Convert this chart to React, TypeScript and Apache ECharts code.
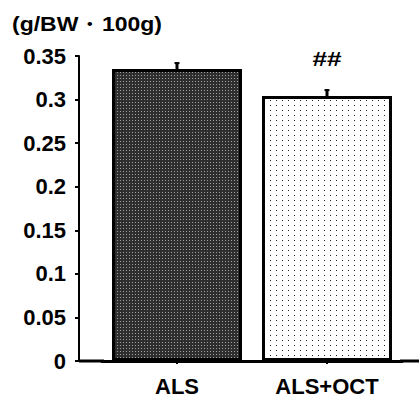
import React, { useEffect, useRef } from "react";
import * as echarts from "echarts";

const categories = ["ALS", "ALS+OCT"];
const values = [0.335, 0.304];
const errors = [0.008, 0.008];
const significance = ["", "##"];
const yTicks = { min: 0, max: 0.35, interval: 0.05 };
const unitLabel = "(g/BW・100g)";

const FONT = "'Liberation Sans', Arial, sans-serif";

export default function App() {
  const ref = useRef<HTMLDivElement>(null);
  useEffect(() => {
    if (!ref.current) return;
    const chart = echarts.init(ref.current, null, { renderer: "svg" });
    const option: any = {
      animation: false,
      backgroundColor: "#fff",
      grid: { left: 102, right: 17, top: 56, bottom: 36 },
      graphic: [
        {
          type: "text",
          x: 12,
          y: 14,
          scaleX: 1.15,
          style: { text: unitLabel, font: `bold 20px ${FONT}`, fill: "#000" },
        },
        {
          type: "line",
          shape: { x1: 79, y1: 361, x2: 104, y2: 361 },
          style: { stroke: "#000", lineWidth: 3 },
        },
        {
          type: "line",
          shape: { x1: 400, y1: 361, x2: 419, y2: 361 },
          style: { stroke: "#000", lineWidth: 3 },
        },
      ],
      xAxis: {
        type: "category",
        data: categories,
        axisLine: { show: true, lineStyle: { color: "#000", width: 3 } },
        axisTick: { show: true, alignWithLabel: true, length: 3, lineStyle: { color: "#000", width: 2 } },
        axisLabel: { color: "#000", fontFamily: FONT, fontWeight: "bold", fontSize: 22, margin: 14 },
        splitLine: { show: false },
      },
      yAxis: {
        type: "value",
        min: yTicks.min,
        max: yTicks.max,
        interval: yTicks.interval,
        offset: 23,
        axisLine: { show: true, lineStyle: { color: "#000", width: 2 } },
        axisTick: { show: true, length: 4, lineStyle: { color: "#000", width: 2 } },
        axisLabel: {
          color: "#000",
          fontFamily: FONT,
          fontWeight: "bold",
          fontSize: 22,
          margin: 13,
          formatter: (v: number) => String(Number(v.toFixed(2))),
        },
        splitLine: { show: false },
      },
      series: [
        {
          type: "bar",
          barWidth: 130,
          data: values.map((v, i) => ({
            value: v,
            itemStyle:
              i === 0
                ? {
                    color: "#2e2e2e",
                    borderColor: "#000",
                    borderWidth: 3,
                    decal: {
                      symbol: "rect",
                      symbolSize: 1,
                      dashArrayX: [1, 2],
                      dashArrayY: [1, 2],
                      color: "#a0a0a0",
                      rotation: 0,
                    },
                  }
                : {
                    color: "#fff",
                    borderColor: "#000",
                    borderWidth: 3,
                    decal: {
                      symbol: "rect",
                      symbolSize: 1,
                      dashArrayX: [1, 5],
                      dashArrayY: [1, 4],
                      color: "#222",
                      rotation: 0,
                    },
                  },
          })),
          z: 2,
        },
        {
          type: "custom",
          z: 3,
          data: values.map((v, i) => [i, v, errors[i]]),
          renderItem: (params: any, api: any) => {
            const i = api.value(0);
            const v = api.value(1);
            const e = api.value(2);
            const p0 = api.coord([i, v]);
            const p1 = api.coord([i, v + e]);
            const children: any[] = [
              {
                type: "line",
                shape: { x1: p0[0], y1: p0[1], x2: p1[0], y2: p1[1] },
                style: { stroke: "#000", lineWidth: 3 },
              },
              {
                type: "line",
                shape: { x1: p1[0] - 2.5, y1: p1[1] + 1, x2: p1[0] + 2.5, y2: p1[1] + 1 },
                style: { stroke: "#000", lineWidth: 2 },
              },
            ];
            const s = significance[params.dataIndex];
            if (s) {
              children.push({
                type: "text",
                x: p1[0],
                y: p1[1] - 20,
                scaleX: 1.25,
                style: {
                  text: s,
                  font: `bold 21px ${FONT}`,
                  fill: "#000",
                  align: "center",
                  verticalAlign: "bottom",
                },
              });
            }
            return { type: "group", children };
          },
        },
      ],
    };
    chart.setOption(option);
    return () => chart.dispose();
  }, []);
  return (
    <div
      ref={ref}
      style={{ position: "fixed", left: 0, top: 0, width: 419, height: 397, background: "#fff" }}
    />
  );
}
